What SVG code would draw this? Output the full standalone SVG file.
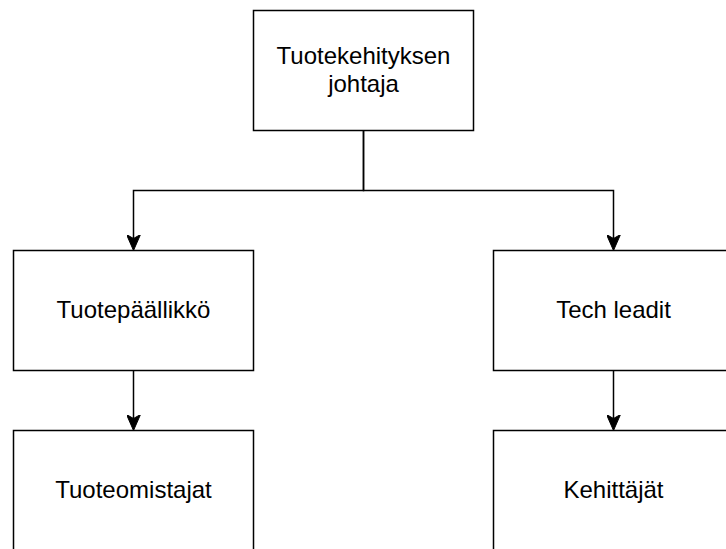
<svg xmlns="http://www.w3.org/2000/svg" width="726" height="549" viewBox="0 0 726 549">
  <style>
    .box { fill: #ffffff; stroke: #000000; stroke-width: 1.5; }
    .lbl { font-family: "Liberation Sans", Arial, Helvetica, sans-serif; font-size: 24px; fill: #000000; text-anchor: middle; }
    .edge { fill: none; stroke: #000000; stroke-width: 1.5; marker-end: url(#arrow); }
  </style>
  <defs>
    <marker id="arrow" viewBox="0 0 16 14" markerWidth="16" markerHeight="14" refX="5.5" refY="7" orient="auto" markerUnits="userSpaceOnUse">
      <path d="M0,0 L16,7 L0,14 L4,7 Z" fill="#000000" stroke="#000000" stroke-width="1"/>
    </marker>
  </defs>
  <rect width="726" height="549" fill="#ffffff"/>
  <g id="node-johtaja">
    <rect class="box" x="253.5" y="10.5" width="220" height="120"/>
    <text class="lbl" x="363.5" y="64">Tuotekehityksen</text>
    <text class="lbl" x="363.5" y="92">johtaja</text>
  </g>
  <g id="node-tuotepaallikko">
    <rect class="box" x="13.5" y="250.5" width="240" height="120"/>
    <text class="lbl" x="133.5" y="318">Tuotepäällikkö</text>
  </g>
  <g id="node-techleadit">
    <rect class="box" x="493.5" y="250.5" width="240" height="120"/>
    <text class="lbl" x="613.5" y="318">Tech leadit</text>
  </g>
  <g id="node-tuoteomistajat">
    <rect class="box" x="13.5" y="430.5" width="240" height="120"/>
    <text class="lbl" x="133.5" y="498">Tuoteomistajat</text>
  </g>
  <g id="node-kehittajat">
    <rect class="box" x="493.5" y="430.5" width="240" height="120"/>
    <text class="lbl" x="613.5" y="498">Kehittäjät</text>
  </g>
  <g id="connectors">
    <path class="edge" d="M363.5,130.5 V190.5 H133.5 V240"/>
    <path class="edge" d="M363.5,130.5 V190.5 H613.5 V240"/>
    <path class="edge" d="M133.5,370.5 V420"/>
    <path class="edge" d="M613.5,370.5 V420"/>
  </g>
</svg>
